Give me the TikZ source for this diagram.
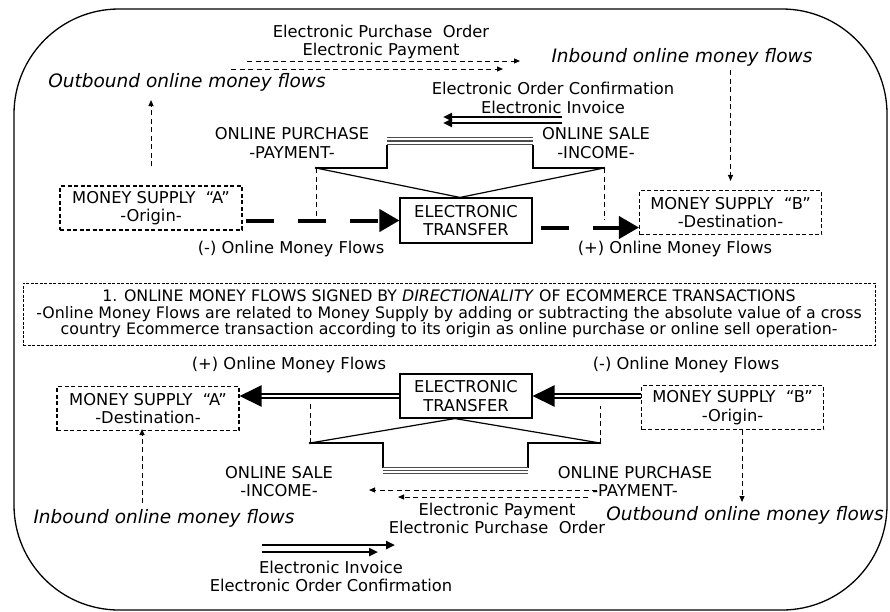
\documentclass[tikz,border=0pt]{standalone}
\usepackage{fontspec}
\setmainfont{DejaVu Sans}
\usepackage{tikz}
\usetikzlibrary{arrows.meta}
\usetikzlibrary{positioning}
\tikzstyle{txt}=[font=\fontsize{16.3}{18.5}\selectfont,align=center,inner sep=0pt]
\tikzstyle{itl}=[font=\fontsize{18.5}{20}\selectfont\itshape,inner sep=0pt]

\begin{document}
\begin{tikzpicture}[x=1pt,y=-1pt,line join=miter]
	\tikzstyle{supply}=[txt,draw,dash pattern=on 4pt off 2.5pt,line width=1.1pt,minimum width=182pt,minimum height=44pt]
	\tikzstyle{transfer}=[txt,draw,line width=1.1pt,minimum width=132pt,minimum height=45pt]
	\tikzstyle{flow}=[dash pattern=on 5pt off 3.5pt,line width=1pt,-{Triangle[length=6pt,width=5pt]}]
	\tikzstyle{link}=[dash pattern=on 5pt off 3.5pt,line width=1pt]
	\tikzstyle{bigflow}=[line width=4pt,dash pattern=on 28pt off 24pt,-{Triangle[length=20pt,width=22pt]}]
	\tikzstyle{dblflow}=[double,double distance=2pt,line width=2.3pt,-{Triangle[length=22pt,width=21pt]}]
	\tikzstyle{docflow}=[line width=2.6pt,-{Triangle[length=9pt,width=8pt]}]
	\tikzstyle{pipe}=[line width=1.3pt,black!70]
	\useasboundingbox (0,0) rectangle (890,611);
	\draw[line width=1.3pt,rounded corners=105pt] (14,9) rectangle (887,610);

	% upper half
	\node [txt] (epoT) at (381,42) {Electronic Purchase\ \ Order\\Electronic Payment};
	\node [itl] (outT) at (187,82) {Outbound online money flows};
	\node [itl] (inT) at (682,57) {Inbound online money flows};
	\node [txt] (eocT) at (553,98) {Electronic Order Confirmation\\Electronic Invoice};
	\node [txt] (purT) at (292,143) {ONLINE PURCHASE\\-PAYMENT-};
	\node [txt] (saleT) at (596,143) {ONLINE SALE\\-INCOME-};
	\node [supply] (msaT) at (151,208) {MONEY SUPPLY\ \ ``A''\\-Origin-};
	\node [supply] (msbT) at (730.5,212.5) {MONEY SUPPLY\ \ ``B''\\-Destination-};
	\node [transfer] (etrT) at (466,220.5) {ELECTRONIC\\TRANSFER};
	\node [txt] (minT) at (291,249) {(-) Online Money Flows};
	\node [txt] (plsT) at (675,249) {(+) Online Money Flows};
	\coordinate (pa1) at (247,61); \coordinate (pa2) at (520,61);
	\coordinate (pb1) at (231,69); \coordinate (pb2) at (503,69);
	\coordinate (da1) at (562,117); \coordinate (da2) at (443,117);
	\coordinate (db1) at (562,123); \coordinate (db2) at (443,123);
	\coordinate (o1) at (151,100); \coordinate (i1) at (730.5,70);
	\coordinate (kL) at (316,168); \coordinate (kR) at (604,168);
	\draw[flow] (pa1) -- (pa2);
	\draw[flow] (pb1) -- (pb2);
	\draw[docflow] (da1) -- (da2);
	\draw[docflow] (db1) -- (db2);
	\draw[flow,shorten <=19pt] (msaT.north) -- (o1);
	\draw[flow,shorten >=9pt] (i1) -- (msbT.north);
	\draw[line width=1.2pt] (kL) -- (387,168) -- (387,145) (533,145) -- (533,168) -- (kR);
	\draw[line width=1.2pt] (kL) -- (etrT.north -| 460,0) -- (kR);
	\foreach \y in {137.5,141,144.5} \draw[pipe] (387,\y) -- (533,\y);
	\fill (kL) circle (1.3pt) (kR) circle (1.3pt);
	\draw[link] (kL) -- (316,220);
	\draw[link] (kR) -- (604,220);
	\draw[bigflow,shorten <=3pt] (msaT.east |- etrT) -- (etrT.west);
	\draw[bigflow,shorten <=8pt] ([yshift=-7pt]etrT.east) -- ([yshift=-7pt]etrT.east -| msbT.west);

	% note
	\node [txt,draw,dash pattern=on 3pt off 1.5pt,line width=1pt,minimum width=852pt,minimum height=62pt,font=\fontsize{15.8}{16.3}\selectfont] (note) at (449,314)
	  {1. ONLINE MONEY FLOWS SIGNED BY \textit{DIRECTIONALITY} OF ECOMMERCE TRANSACTIONS\\
	   -Online Money Flows are related to Money Supply by adding or subtracting the absolute value of a cross\\
	   country Ecommerce transaction according to its origin as online purchase or online sell operation-};

	% lower half
	\node [txt] (plsB) at (289,365) {(+) Online Money Flows};
	\node [txt] (minB) at (686,365) {(-) Online Money Flows};
	\node [supply] (msaB) at (148,408.5) {MONEY SUPPLY\ \ ``A''\\-Destination-};
	\node [supply] (msbB) at (732.5,407.5) {MONEY SUPPLY\ \ ``B''\\-Origin-};
	\node [transfer,minimum height=44pt] (etrB) at (466,396) {ELECTRONIC\\TRANSFER};
	\node [txt] (saleB) at (279,481.5) {ONLINE SALE\\-INCOME-};
	\node [txt] (purB) at (635,481.5) {ONLINE PURCHASE\\-PAYMENT-};
	\node [txt] (epoB) at (497,518.5) {Electronic Payment\\Electronic Purchase\ \ Order};
	\node [itl] (outB) at (745,515) {Outbound online money flows};
	\node [itl] (inB) at (164,518) {Inbound online money flows};
	\node [txt] (eocB) at (331,576.5) {Electronic Invoice\\Electronic Order Confirmation};
	\coordinate (pc1) at (597,490); \coordinate (pc2) at (369,490);
	\coordinate (pd1) at (588,497); \coordinate (pd2) at (398,497);
	\coordinate (dc1) at (262,545); \coordinate (dc2) at (395,545);
	\coordinate (dd1) at (262,552); \coordinate (dd2) at (378,552);
	\coordinate (i2) at (142,503); \coordinate (o2) at (742,502);
	\coordinate (mL) at (310,443); \coordinate (mR) at (600,443);
	\draw[flow] (pc1) -- (pc2);
	\draw[flow] (pd1) -- (pd2);
	\draw[docflow] (dc1) -- (dc2);
	\draw[docflow] (dd1) -- (dd2);
	\draw[flow,shorten >=-2pt] (i2) -- (i2 |- msaB.south);
	\draw[flow] (o2 |- msbB.south) -- (o2);
	\draw[line width=1.2pt] (mL) -- (383,443) -- (383,468) (528,468) -- (528,443) -- (mR);
	\draw[line width=1.2pt] (mL) -- (etrB.south -| 455,0) -- (mR);
	\foreach \y in {467.5,470.5,473.5} \draw[pipe] (383,\y) -- (528,\y);
	\fill (mL) circle (1.3pt) (mR) circle (1.3pt);
	\draw[link] (mL) -- (310,404);
	\draw[link] (mR) -- (600,406);
	\draw[dblflow] (etrB.west) -- (etrB.west -| msaB.east);
	\draw[dblflow] (etrB.east -| msbB.west) -- (etrB.east);
\end{tikzpicture}
\end{document}
